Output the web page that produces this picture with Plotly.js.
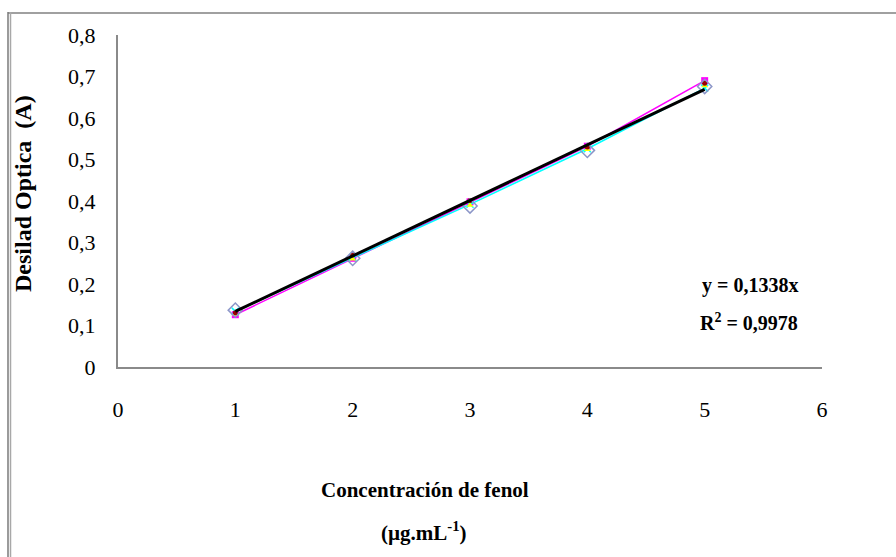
<!DOCTYPE html>
<html>
<head>
<meta charset="utf-8">
<script src="https://cdn.plot.ly/plotly-3.0.1.min.js"></script>
<style>
html,body{margin:0;padding:0;background:#fff;}
#chart{width:896px;height:557px;}
</style>
</head>
<body>
<div id="chart"></div>
<script>
// Concentration of phenol (µg/mL)
var conc = [1, 2, 3, 4, 5];
// Replicate absorbance readings
var repMagenta = [0.126, 0.262, 0.398, 0.532, 0.690];
var repCyan    = [0.134, 0.264, 0.392, 0.526, 0.672];
var repYellow  = [0.127, 0.260, 0.390, 0.524, 0.678];
var repRed     = [0.131, 0.270, 0.401, 0.530, 0.684];
var repDiamond = [0.137, 0.262, 0.388, 0.522, 0.676];
// Linear trendline endpoints (y = 0,1338x)
var trendX = [1, 5];
var trendY = [0.1338, 0.669];
var xTicks = [0, 1, 2, 3, 4, 5, 6];
var yTicks = [0, 0.1, 0.2, 0.3, 0.4, 0.5, 0.6, 0.7, 0.8];
var yTickText = ['0', '0,1', '0,2', '0,3', '0,4', '0,5', '0,6', '0,7', '0,8'];

var serif = '"Liberation Serif", "Times New Roman", serif';

var W = 896, H = 557;
var mL = 118, mR = 74, mT = 35, mB = 190;
var pw = W - mL - mR, ph = H - mT - mB;
function px(x){ return (x - mL) / pw; }
function py(y){ return (H - mB - y) / ph; }

var traces = [
  {x: conc, y: repMagenta, mode: 'lines+markers', line: {color: '#FF00FF', width: 1.5},
   marker: {symbol: 'square', size: 7, color: '#FF00FF'}, showlegend: false, hoverinfo: 'skip'},
  {x: conc, y: repCyan, mode: 'lines+markers', line: {color: '#00FFFF', width: 1.5},
   marker: {symbol: 'x-thin-open', size: 7, color: '#00FFFF', line: {color: '#00FFFF', width: 1.5}}, showlegend: false, hoverinfo: 'skip'},
  {x: conc, y: repYellow, mode: 'markers',
   marker: {symbol: 'triangle-up', size: 6, color: '#FFFF00'}, showlegend: false, hoverinfo: 'skip'},
  {x: conc, y: repRed, mode: 'markers',
   marker: {symbol: 'circle', size: 5, color: '#990000'}, showlegend: false, hoverinfo: 'skip'},
  {x: conc, y: repDiamond, mode: 'markers',
   marker: {symbol: 'diamond-open', size: 11, color: '#8C96C8', line: {color: '#8C96C8', width: 1.5}}, showlegend: false, hoverinfo: 'skip'},
  {x: trendX, y: trendY, mode: 'lines', line: {color: '#000000', width: 3},
   showlegend: false, hoverinfo: 'skip'}
];

function ann(x, y, text, size, angle){
  return {xref: 'paper', yref: 'paper', x: px(x), y: py(y), text: text,
          xanchor: 'center', yanchor: 'middle', textangle: angle || 0,
          showarrow: false, font: {family: serif, size: size, color: '#000'}};
}

var layout = {
  width: W, height: H,
  margin: {l: mL, r: mR, t: mT, b: mB, pad: 0},
  paper_bgcolor: '#ffffff', plot_bgcolor: '#ffffff',
  showlegend: false,
  font: {family: serif, color: '#000', size: 22},
  xaxis: {
    range: [0, 6], tickvals: xTicks, ticktext: xTicks.map(String),
    showgrid: false, zeroline: false, showline: true, linecolor: '#8a8a8a', linewidth: 2,
    ticks: '', ticklabelstandoff: 22, tickfont: {family: serif, size: 22, color: '#000'},
    fixedrange: true
  },
  yaxis: {
    range: [0, 0.8], tickvals: yTicks, ticktext: yTickText,
    showgrid: false, zeroline: false, showline: true, linecolor: '#8a8a8a', linewidth: 2,
    ticks: '', ticklabelstandoff: 16, tickfont: {family: serif, size: 22, color: '#000'},
    fixedrange: true
  },
  annotations: [
    ann(23, 194, '<b>Desilad Optica  (A)</b>', 24, -90),
    ann(425, 490, '<b>Concentración de fenol</b>', 21),
    ann(424, 531, '<b>(µg.mL<sup>-1</sup>)</b>', 21),
    ann(750, 285, '<b>y = 0,1338x</b>', 20),
    ann(749, 322, '<b>R<sup>2</sup> = 0,9978</b>', 20)
  ],
  shapes: [
    {type: 'line', xref: 'paper', yref: 'paper', x0: px(8), x1: px(W), y0: py(13), y1: py(13),
     line: {color: '#a0a0a0', width: 2}},
    {type: 'line', xref: 'paper', yref: 'paper', x0: px(8), x1: px(8), y0: py(12), y1: py(H),
     line: {color: '#7a7a7a', width: 1.5}},
    {type: 'line', xref: 'paper', yref: 'paper', x0: px(10.5), x1: px(10.5), y0: py(12), y1: py(H),
     line: {color: '#a8a8a8', width: 1.5}}
  ]
};

Plotly.newPlot('chart', traces, layout, {staticPlot: true, displayModeBar: false});
</script>
</body>
</html>
